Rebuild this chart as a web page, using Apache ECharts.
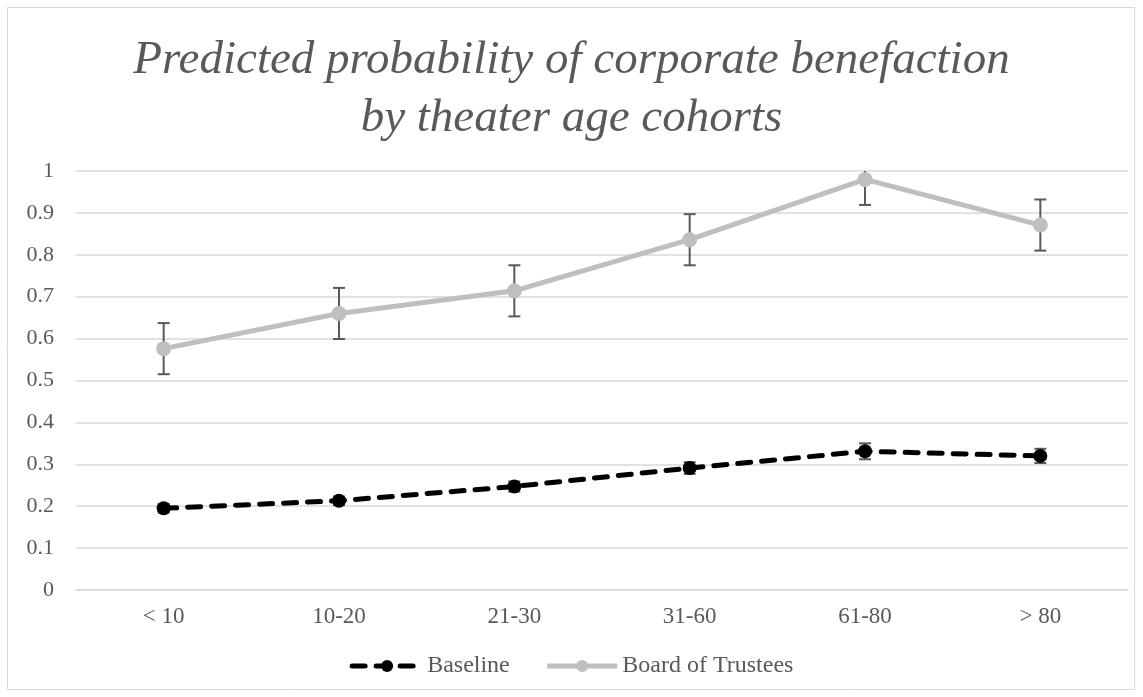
<!DOCTYPE html>
<html>
<head>
<meta charset="utf-8">
<script src="https://cdn.jsdelivr.net/npm/echarts@6/dist/echarts.min.js"></script>
<style>html,body{margin:0;padding:0;background:#fff}#c{width:1143px;height:697px}</style>
</head>
<body>
<div id="c"></div>
<script>
const categories = ['< 10', '10-20', '21-30', '31-60', '61-80', '> 80'];
const baseline = [0.195, 0.213, 0.247, 0.291, 0.331, 0.320];
const baselineErr = [0.010, 0.010, 0.012, 0.014, 0.019, 0.017];
const trustees = [0.576, 0.660, 0.714, 0.836, 0.980, 0.871];
const trusteesErr = [0.061, 0.061, 0.061, 0.061, 0.061, 0.061];
const yTicks = [0, 0.1, 0.2, 0.3, 0.4, 0.5, 0.6, 0.7, 0.8, 0.9, 1];

const font = '"Liberation Serif", "Times New Roman", serif';
const txt = '#595959';

function errData(vals, errs) {
  return vals.map((v, i) => [i, v - errs[i], v + errs[i]]);
}
function renderErr(params, api) {
  const x = api.value(0);
  const lo = api.coord([x, api.value(1)]);
  const hi = api.coord([x, api.value(2)]);
  const w = 6;
  const style = { stroke: '#595959', lineWidth: 2 };
  return {
    type: 'group',
    children: [
      { type: 'line', shape: { x1: lo[0], y1: lo[1], x2: hi[0], y2: hi[1] }, style },
      { type: 'line', shape: { x1: lo[0] - w, y1: lo[1], x2: lo[0] + w, y2: lo[1] }, style },
      { type: 'line', shape: { x1: hi[0] - w, y1: hi[1], x2: hi[0] + w, y2: hi[1] }, style }
    ]
  };
}

const chart = echarts.init(document.getElementById('c'), null, { renderer: 'canvas' });
chart.setOption({
  animation: false,
  backgroundColor: '#fff',
  graphic: [{
    type: 'rect', shape: { x: 7.5, y: 7.5, width: 1127, height: 682 },
    style: { fill: 'none', stroke: '#D9D9D9', lineWidth: 1 }, silent: true, z: -10
  }],
  title: {
    text: 'Predicted probability of corporate benefaction\nby theater age cohorts',
    left: 'center', top: 27,
    textStyle: { fontFamily: font, fontStyle: 'italic', fontWeight: 'normal', fontSize: 47, lineHeight: 58, color: txt }
  },
  grid: { left: 76, right: 15, top: 171, bottom: 107, containLabel: false },
  legend: {
    bottom: 14, left: 'center', itemWidth: 70, itemHeight: 15, itemGap: 35,
    data: ['Baseline', 'Board of Trustees'],
    lineStyle: { width: 5 },
    textStyle: { fontFamily: font, fontSize: 24, color: txt }
  },
  xAxis: {
    type: 'category', data: categories, boundaryGap: true,
    axisLine: { show: true, lineStyle: { color: '#D9D9D9', width: 1.5 } },
    axisTick: { show: false },
    axisLabel: { fontFamily: font, fontSize: 23, color: txt, margin: 15 },
    splitLine: { show: false }
  },
  yAxis: {
    type: 'value', min: 0, max: 1, interval: 0.1,
    axisLine: { show: false }, axisTick: { show: false },
    axisLabel: { fontFamily: font, fontSize: 22, color: txt, margin: 22,
      formatter: v => String(Math.round(v * 10) / 10) },
    splitLine: { lineStyle: { color: '#D9D9D9', width: 1.5 } }
  },
  series: [
    {
      name: 'Baseline', type: 'line', data: baseline, z: 4,
      symbol: 'circle', symbolSize: 14,
      itemStyle: { color: '#000' },
      lineStyle: { color: '#000', width: 5, type: [13, 11], cap: 'round' }
    },
    {
      name: 'Board of Trustees', type: 'line', data: trustees, z: 3,
      symbol: 'circle', symbolSize: 15,
      itemStyle: { color: '#BFBFBF' },
      lineStyle: { color: '#BFBFBF', width: 5 }
    },
    { type: 'custom', name: 'bErr', data: errData(baseline, baselineErr), renderItem: renderErr, z: 2, clip: true, silent: true },
    { type: 'custom', name: 'tErr', data: errData(trustees, trusteesErr), renderItem: renderErr, z: 2, clip: true, silent: true }
  ]
});
</script>
</body>
</html>
